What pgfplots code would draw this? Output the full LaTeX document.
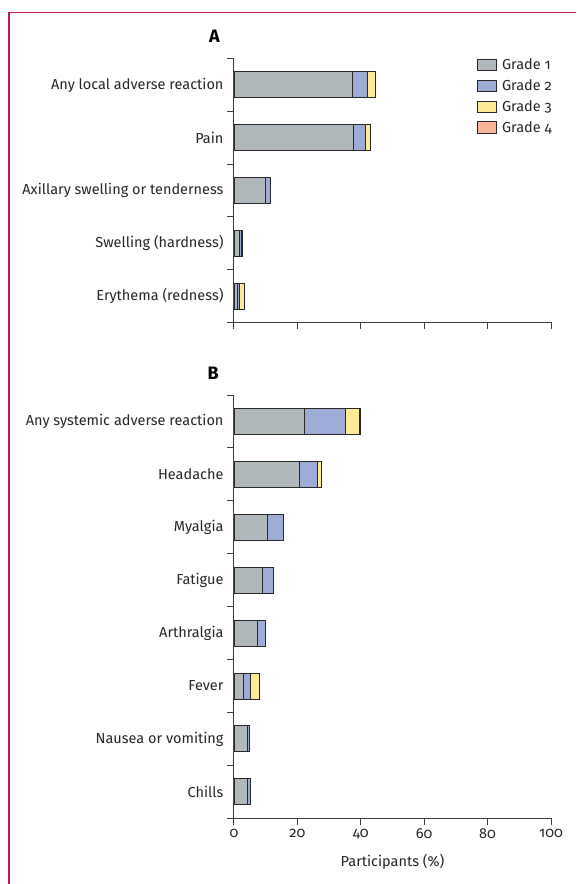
\documentclass[border=0pt]{standalone}
\usepackage{pgfplots}
\pgfplotsset{compat=1.18}
\usepackage{fontspec}
\setmainfont{Fira Sans}[Numbers=OldStyle]
\definecolor{gOne}{RGB}{177,184,188}
\definecolor{gTwo}{RGB}{157,172,214}
\definecolor{gThree}{RGB}{255,234,150}
\definecolor{gFour}{RGB}{250,182,152}
\definecolor{frm}{RGB}{196,22,64}
\definecolor{axc}{RGB}{60,60,60}
\definecolor{edge}{RGB}{40,40,40}
\newcommand{\lblfont}{\fontsize{14.5}{16}\selectfont}
\pgfplotsset{
  boxleg/.style={legend image code/.code={\draw[##1,draw=edge,line width=0.8pt] (0pt,-5.7pt) rectangle (19pt,5.7pt);}},
  panel/.style={
    scale only axis, width=317pt,
    xbar stacked, bar width=26pt,
    xmin=0, xmax=100, xtick={0,20,...,100},
    y dir=reverse,
    axis x line*=bottom, axis y line*=left,
    axis line style={axc, line width=1pt, -},
    tick style={axc, line width=1pt},
    major tick length=7pt, tick align=outside,
    yticklabels={},
    extra y tick style={tick style={draw=none}},
    tick label style={font=\lblfont, text=black!85},
    /pgf/number format/assume math mode=true,
    every axis plot/.append style={draw=edge, line width=0.9pt},
  }
}
\begin{document}
\begin{tikzpicture}
\useasboundingbox (0,0) rectangle (576pt,884pt);
\draw[frm, line width=1.2pt] (9pt,0) -- (9pt,871.5pt) -- (576pt,871.5pt);
\node[font=\fontsize{18}{18}\selectfont\bfseries] at (214.5pt,847.6pt) {A};
\node[font=\fontsize{18}{18}\selectfont\bfseries] at (213.3pt,510.3pt) {B};
\begin{axis}[panel,
  at={(234pt,561.5pt)}, anchor=south west, height=264pt,
  ymin=-0.5, ymax=4.5,
  ytick={-0.5,0.5,1.5,2.5,3.5,4.5},
  extra y ticks={0,1,2,3,4},
  extra y tick labels={Any local adverse reaction,Pain,Axillary swelling or tenderness,Swelling (hardness),Erythema (redness)},
  xticklabels={},
  legend style={at={(1,1)}, anchor=north east, xshift=6pt, yshift=4pt, draw=none, fill=none, font=\lblfont, text=black!85, row sep=4.5pt, /tikz/every odd column/.append style={column sep=3.5pt}},
  legend cell align=left,
]
\addlegendimage{boxleg, fill=gOne}
\addlegendimage{boxleg, fill=gTwo}
\addlegendimage{boxleg, fill=gThree}
\addlegendimage{boxleg, fill=gFour}
\addplot[fill=gOne] coordinates {(37.3,0) (37.6,1) (10.0,2) (1.7,3) (1.0,4)};
\addplot[fill=gTwo] coordinates {(4.8,0) (4.0,1) (1.6,2) (0.5,3) (0.6,4)};
\addplot[fill=gThree] coordinates {(2.6,0) (1.3,1) (0,2) (0.5,3) (1.6,4)};
\legend{Grade 1,Grade 2,Grade 3,Grade 4}
\end{axis}
\begin{axis}[panel,
  at={(234pt,65.7pt)}, anchor=south west, height=423.3pt,
  ymin=-0.5, ymax=7.5,
  ytick={-0.5,0.5,1.5,2.5,3.5,4.5,5.5,6.5,7.5},
  extra y ticks={0,1,2,3,4,5,6,7},
  extra y tick labels={Any systemic adverse reaction,Headache,Myalgia,Fatigue,Arthralgia,Fever,Nausea or vomiting,Chills},
  xlabel={Participants (\%)},
  xlabel style={font=\lblfont, text=black!85, yshift=-9pt},
]
\addplot[fill=gOne] coordinates {(22.1,0) (20.5,1) (10.4,2) (9.1,3) (7.4,4) (3.1,5) (4.2,6) (4.2,7)};
\addplot[fill=gTwo] coordinates {(13.2,0) (5.8,1) (5.2,2) (3.3,3) (2.6,4) (2.0,5) (0.7,6) (1.0,7)};
\addplot[fill=gThree] coordinates {(4.2,0) (1.2,1) (0,2) (0,3) (0,4) (2.9,5) (0,6) (0,7)};
\addplot[fill=gFour] coordinates {(0.3,0) (0,1) (0,2) (0,3) (0,4) (0,5) (0,6) (0,7)};
\end{axis}
\end{tikzpicture}
\end{document}
